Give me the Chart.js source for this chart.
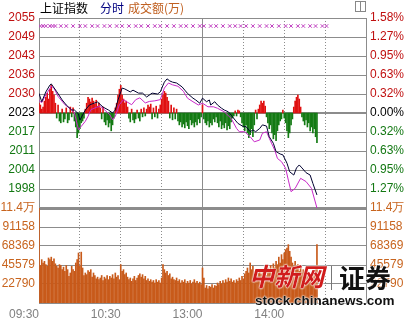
<!DOCTYPE html>
<html>
<head>
<meta charset="utf-8">
<script src="https://cdn.jsdelivr.net/npm/chart.js@4.4.0/dist/chart.umd.min.js"></script>
<style>
  html, body { margin: 0; padding: 0; background: #fff; }
  #wrap { position: relative; width: 407px; height: 321px; overflow: hidden; }
  canvas { position: absolute; left: 0; top: 0; }
  .t { position: absolute; top: 0; font: 12px "Noto Sans CJK SC", sans-serif; line-height: 16px; white-space: nowrap; }
  #icon { position: absolute; left: 355px; top: 1px; width: 9px; height: 9px; border: 1px solid #888; }
  #icon div { position: absolute; left: 4px; top: 0; width: 1px; height: 9px; background: #888; }
  .wm { position: absolute; white-space: nowrap; text-shadow: 0 0 2px #fff, 0 0 2px #fff, 0 0 1px #fff; }
</style>
</head>
<body>
<div id="wrap">
  <canvas id="c" width="407" height="321"></canvas>
  <span class="t" style="left:40px;color:#000">上证指数</span>
  <span class="t" style="left:100px;color:#000080">分时</span>
  <span class="t" style="left:128px;color:#c06020">成交额(万)</span>
  <div id="icon"><div></div></div>
  <span class="wm" style="left:249px;top:257px;font:italic bold 25px 'Noto Sans CJK SC';color:#d01c1c">中新网</span>
  <span class="wm" style="left:331px;top:266px;width:0;height:24px;border-left:1px solid #777"></span>
  <span class="wm" style="left:339px;top:258px;font:bold 26px 'Noto Sans CJK SC';color:#111">证券</span>
  <span class="wm" style="left:255px;top:293px;font:bold 13.5px 'Liberation Sans';color:#111">stock.chinanews.com</span>
</div>
<script>
// 上证指数分时图

// 价格轴刻度 (上 -> 下)
const priceTicks = [2055.4, 2049.0, 2042.6, 2036.2, 2029.8, 2023.4, 2017.0, 2010.6, 2004.2, 1997.8, 1991.4];
const priceLabels = ['2055', '2049', '2043', '2036', '2030', '2023', '2017', '2011', '2004', '1998', '11.4万'];
const pctLabels = ['1.58%', '1.27%', '0.95%', '0.63%', '0.32%', '0.00%', '0.32%', '0.63%', '0.95%', '1.27%', '11.4万'];
const prevClose = 2023.4;

// 成交量轴刻度
const volMax = 113948;
const volTicks = [91158, 68369, 45579, 22790];
const volLabels = ['91158', '68369', '45579', '22790'];

// 时间轴 (分钟序号, 0 = 09:30, 120 = 11:30/13:00, 240 = 15:00)
const timeTicks = [0, 30, 60, 90, 120, 150, 180, 210, 240];
const timeLabels = ['09:30', '', '10:30', '', '13:00', '', '14:00', '', ''];

// 指数走势
const priceMins = [0, 2, 5, 8, 9, 13, 17, 20, 24, 26, 29, 30, 34, 37, 41, 43, 47, 51, 54, 56, 58, 61, 63, 67, 69, 73, 76, 79, 83, 87, 89, 92, 94, 96, 98, 101, 105, 107, 109, 113, 115, 118, 120, 123, 125, 126, 129, 131, 134, 136, 139, 141, 144, 146, 150, 152, 155, 157, 159, 162, 164, 167, 169, 172, 174, 177, 179, 182, 184, 187, 189, 191, 193, 196, 199, 201, 204];
const priceVals = [2030.0, 2027.2, 2030.5, 2032.8, 2033.2, 2030.6, 2027.8, 2026.1, 2024.4, 2024.4, 2023.1, 2021.0, 2024.4, 2026.1, 2026.8, 2027.1, 2025.4, 2024.4, 2023.4, 2024.4, 2027.8, 2031.8, 2031.5, 2030.5, 2031.1, 2030.1, 2030.1, 2028.8, 2030.1, 2029.8, 2030.5, 2033.8, 2034.9, 2034.2, 2033.8, 2033.5, 2032.2, 2031.1, 2030.0, 2028.4, 2027.8, 2026.7, 2028.4, 2027.2, 2027.8, 2026.1, 2027.2, 2026.1, 2025.0, 2024.4, 2023.8, 2022.7, 2021.0, 2019.9, 2018.8, 2018.8, 2017.1, 2017.7, 2017.1, 2018.2, 2019.4, 2019.0, 2015.4, 2013.2, 2010.4, 2009.6, 2009.3, 2006.5, 2003.6, 2002.5, 2004.9, 2005.9, 2004.9, 2003.3, 2002.5, 1999.7, 1995.8];

// 均价线
const avgMins = [0, 2, 5, 9, 11, 14, 19, 24, 26, 29, 31, 34, 36, 38, 42, 45, 48, 52, 54, 56, 59, 62, 64, 68, 71, 74, 78, 81, 85, 89, 92, 95, 98, 102, 106, 109, 113, 117, 120, 124, 128, 131, 136, 141, 145, 147, 151, 155, 158, 162, 164, 167, 169, 173, 175, 178, 181, 183, 185, 188, 192, 196, 200, 204];
const avgVals = [2027.6, 2026.9, 2029.5, 2032.4, 2031.8, 2029.0, 2026.2, 2024.5, 2023.4, 2017.8, 2018.9, 2020.6, 2022.3, 2024.5, 2025.3, 2025.7, 2024.5, 2022.8, 2021.1, 2022.3, 2026.2, 2027.9, 2027.3, 2026.2, 2027.9, 2028.5, 2026.8, 2027.3, 2027.5, 2027.9, 2031.8, 2033.5, 2032.9, 2032.4, 2030.7, 2028.4, 2027.2, 2026.1, 2026.7, 2025.5, 2025.5, 2025.0, 2023.8, 2021.6, 2018.2, 2017.1, 2017.1, 2015.4, 2013.7, 2014.3, 2016.6, 2017.1, 2014.9, 2010.9, 2008.1, 2007.0, 2004.8, 2000.8, 1996.9, 1998.0, 2001.4, 2000.3, 1998.0, 1991.4];

// 买卖力道 (红正绿负, 相对昨收)
const strength = [
  3.3, 2.7, 1.3, 2, 4, 5.3, 6.7, 4.7, 8, 9.3,
  7.3, 6, 3.3, -1.7, 2.7, -2.7, -3.3, 1.3, -3, -2,
  1.7, -3.3, -2.3, 2, -1.3, 1.7, -2.7, -4.7, -8.3, -6.7,
  -5.3, -3.3, -2.7, -1.7, 1.3, 3.3, 5.3, 4.7, 3.7, 5,
  4, 3, 4.3, 2.3, 3.3, 1.7, -2, 2, -3, -4,
  -2.3, -4.7, -3.3, -6, -4, -1.7, 1.7, 3.3, 6, 8,
  9.3, 6, 4.7, 3.3, 4, 2, -1.7, -3, 1.3, -2.3,
  -3.3, -2, 1, -1.7, -2.7, 1.3, -1.3, 1.7, -1, 1.3,
  2.7, 2, 3, -2, 1.7, -1.3, 2.3, -1.7, 1.3, 2.7,
  4.7, 6, 7.3, 6.7, 5.3, 4, -1.7, 2.7, -2.3, 1.7,
  -2, 1.3, -2.7, -4, -3, -4.7, -3.7, -5, -3, -4.3,
  -5.3, -2.3, -4, -3.3, -4.7, -3, -4, -2, -3.3, -1.3,
  2.7, -2, -3.3, -4, -2.7, -4.7, -3.3, -4, -2, -3,
  -1.3, -3.3, -4.7, -2.7, -5.3, -4, -5, -3.3, -5.7, -4.3,
  -5.3, -3, -1.7, -1, 0.7, -1, 1, 0.7, -1.3, -3.3,
  -4.7, -6, -4, -6.7, -8.3, -7.3, -5.3, -8, -4, 1,
  -2, 1.3, 2.7, 4, 3.3, 4, 2.3, -1.3, -3.3, -5.3,
  -4, -6.7, -8.7, -7.3, -9.3, -6, -4, -2.7, -2, 1,
  -1.7, -3.3, -6, -8.3, -6.7, -4, -2, 2, 4, 5.3,
  6, 4.7, 2, -1.3, -2.7, -4, -2.3, -4.7, -3.3, -6,
  -4.7, -6.7, -5.3, -8, -10
];

// 每分钟成交额
const volume = [
  113948, 45000, 52000, 48000, 50000, 46000, 44000, 54000, 52000, 55000,
  50000, 53000, 47000, 44000, 42000, 46000, 45000, 40000, 43000, 38000,
  45000, 40000, 32000, 36000, 44000, 40000, 38000, 48000, 52000, 60000,
  44000, 61000, 42000, 33000, 36000, 34000, 39000, 37000, 40000, 31000,
  36000, 33000, 29000, 31000, 28000, 30000, 33000, 27000, 31000, 29000,
  33000, 28000, 32000, 30000, 34000, 29000, 36000, 31000, 33000, 28000,
  46000, 38000, 40000, 34000, 36000, 31000, 28000, 30000, 26000, 29000,
  32000, 27000, 30000, 33000, 35000, 31000, 34000, 29000, 32000, 27000,
  29000, 26000, 28000, 25000, 27000, 24000, 28000, 25000, 27000, 24000,
  30000, 46000, 40000, 36000, 38000, 33000, 35000, 29000, 31000, 28000,
  27000, 30000, 26000, 28000, 24000, 27000, 25000, 28000, 23000, 26000,
  24000, 27000, 23000, 25000, 28000, 24000, 26000, 23000, 25000, 22000,
  42000, 30000, 18000, 21000, 17000, 20000, 19000, 22000, 18000, 21000,
  20000, 24000, 22000, 26000, 23000, 27000, 24000, 28000, 25000, 30000,
  26000, 29000, 25000, 27000, 24000, 28000, 26000, 30000, 27000, 32000,
  29000, 35000, 38000, 42000, 36000, 48000, 40000, 44000, 34000, 38000,
  32000, 36000, 40000, 34000, 38000, 32000, 36000, 33000, 42000, 38000,
  45000, 40000, 47000, 42000, 50000, 46000, 55000, 48000, 58000, 52000,
  60000, 64000, 66000, 70000, 62000, 55000, 48000, 44000, 50000, 42000,
  46000, 38000, 44000, 36000, 40000, 34000, 38000, 33000, 36000, 30000,
  34000, 31000, 35000, 40000, 70000
];

// 顶部 × 标记
const markMins = [1, 3, 5, 8, 10, 12, 16, 20, 25, 30, 34, 39, 43, 48, 52, 57, 61, 66, 71, 75, 80, 85, 89, 94, 99, 104, 108, 113, 118, 121, 126, 130, 135, 140, 144, 148, 152, 157, 162, 167, 171, 176, 181, 185, 190, 194, 199, 203, 208, 211];
const markLevel = 2052.7;

const GREEN = '#137813', ORANGE = '#c8641e', GRID = '#8c8c8c';
const priceTickColors = ['#c01010', '#c01010', '#c01010', '#c01010', '#c01010', '#000000', GREEN, GREEN, GREEN, GREEN, ORANGE];

const font = { family: '"Liberation Sans", Arial, sans-serif', size: 12 };

const setTicks = (list) => (scale) => { scale.ticks = list.map((v) => ({ value: v })); };

new Chart(document.getElementById('c').getContext('2d'), {
  data: {
    datasets: [
      {
        type: 'line',
        label: '指数',
        data: priceMins.map((m, i) => ({ x: m, y: priceVals[i] })),
        borderColor: '#000030',
        borderWidth: 1,
        pointRadius: 0,
        xAxisID: 'x',
        yAxisID: 'yP',
        order: 0,
      },
      {
        type: 'line',
        label: '均价',
        data: avgMins.map((m, i) => ({ x: m, y: avgVals[i] })),
        borderColor: '#c828c8',
        borderWidth: 1,
        pointRadius: 0,
        xAxisID: 'x',
        yAxisID: 'yP',
        order: 1,
      },
      {
        type: 'scatter',
        label: 'mark',
        data: markMins.map((m) => ({ x: m, y: markLevel })),
        pointStyle: 'crossRot',
        pointRadius: 2.5,
        borderWidth: 1,
        borderColor: '#c040c0',
        xAxisID: 'x',
        yAxisID: 'yP',
        order: 2,
      },
      {
        type: 'bar',
        label: '力道',
        data: strength.map((v, i) => ({ x: i, y: [prevClose, prevClose + v] })),
        backgroundColor: strength.map((v) => (v >= 0 ? '#e01010' : '#137a13')),
        barThickness: 1,
        grouped: false,
        xAxisID: 'x',
        yAxisID: 'yP',
        order: 3,
      },
      {
        type: 'bar',
        label: '成交额',
        data: volume.map((v, i) => ({ x: i, y: v })),
        backgroundColor: '#c85a1a',
        barThickness: 1,
        grouped: false,
        xAxisID: 'x',
        yAxisID: 'yV',
        order: 4,
      },
    ],
  },
  options: {
    responsive: false,
    animation: false,
    layout: { padding: { top: 18, left: 0, right: 0, bottom: 0 } },
    plugins: { legend: { display: false }, tooltip: { enabled: false } },
    scales: {
      x: {
        type: 'linear',
        min: 0,
        max: 240,
        offset: false,
        afterBuildTicks: setTicks(timeTicks),
        afterFit: (s) => { s.height = 18; },
        ticks: {
          autoSkip: false,
          maxRotation: 0,
          align: 'end',
          padding: 4,
          color: '#808080',
          font,
          callback: (v, i) => timeLabels[i],
        },
        grid: { color: GRID, drawTicks: false, offset: false },
        border: {
          color: GRID,
          dash: (ctx) => (!ctx.tick || [0, 120, 240].includes(ctx.tick.value) ? [] : [1, 2]),
        },
      },
      yP: {
        type: 'linear',
        position: 'left',
        stack: 'pane',
        stackWeight: 2,
        weight: 1,
        min: priceTicks[priceTicks.length - 1],
        max: priceTicks[0],
        afterBuildTicks: setTicks(priceTicks),
        afterFit: (s) => { s.width = 39; },
        ticks: {
          autoSkip: false,
          padding: 4,
          font,
          color: (ctx) => priceTickColors[ctx.index],
          callback: (v, i) => priceLabels[i],
        },
        grid: {
          drawTicks: false,
          color: GRID,
          lineWidth: (ctx) => (ctx.index === 10 ? 3 : ctx.index === 5 ? 2 : 1),
        },
        border: { color: GRID },
      },
      yV: {
        type: 'linear',
        position: 'left',
        stack: 'pane',
        stackWeight: 1,
        weight: 0,
        min: 0,
        max: volMax,
        afterBuildTicks: setTicks(volTicks),
        afterFit: (s) => { s.width = 39; },
        ticks: { autoSkip: false, padding: 4, font, color: ORANGE, callback: (v, i) => volLabels[i] },
        grid: { drawTicks: false, color: GRID },
        border: { color: GRID },
      },
      yPR: {
        type: 'linear',
        position: 'right',
        stack: 'paneR',
        stackWeight: 2,
        weight: 0,
        min: priceTicks[priceTicks.length - 1],
        max: priceTicks[0],
        afterBuildTicks: setTicks(priceTicks),
        afterFit: (s) => { s.width = 41; },
        ticks: {
          autoSkip: false,
          padding: 4,
          font,
          color: (ctx) => priceTickColors[ctx.index],
          callback: (v, i) => pctLabels[i],
        },
        grid: { display: false, drawTicks: false },
        border: { color: GRID },
      },
      yVR: {
        type: 'linear',
        position: 'right',
        stack: 'paneR',
        stackWeight: 1,
        weight: 1,
        min: 0,
        max: volMax,
        afterBuildTicks: setTicks(volTicks),
        afterFit: (s) => { s.width = 41; },
        ticks: { autoSkip: false, padding: 4, font, color: ORANGE, callback: (v, i) => volLabels[i] },
        grid: { display: false, drawTicks: false },
        border: { color: GRID },
      },
    },
  },
});
</script>
</body>
</html>
